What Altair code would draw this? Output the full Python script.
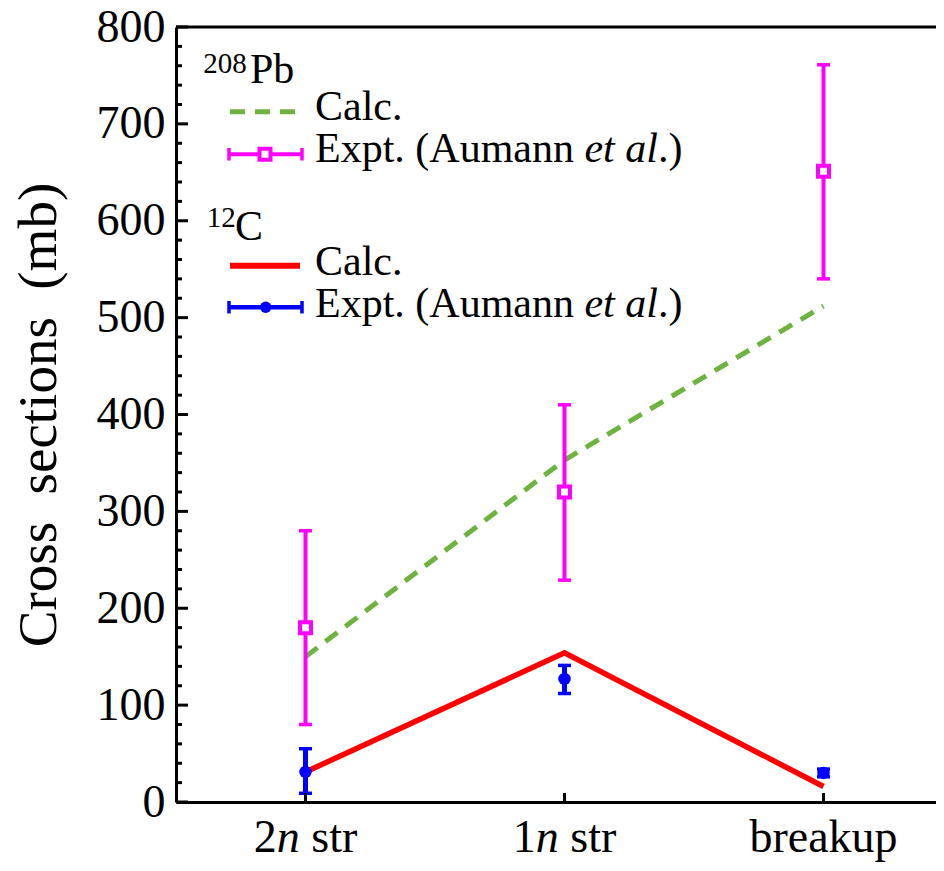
import altair as alt
import pandas as pd

# ---------------- data ----------------
cats = ["2n str", "1n str", "breakup"]
cat_pos = [1, 2, 3]

pb_calc = [150, 353, 512]
pb_expt = [180, 320, 651]
pb_expt_lo = [80, 229, 540]
pb_expt_hi = [280, 410, 761]

c_calc = [31, 154, 16]
c_expt = [31, 127, 30]
c_expt_lo = [9, 112, 26]
c_expt_hi = [55, 141, 34]

y_tick_values = [0, 100, 200, 300, 400, 500, 600, 700, 800]
y_minor_values = [v for v in range(0, 801, 20) if v % 100 != 0]

# x tick label pieces (italic n)
tick_lead = ["2", "1"]
tick_ital = ["n", "n"]
tick_tail = ["str", "str"]
tick_plain = ["breakup"]

GREEN = "#6db33f"
MAGENTA = "#ff00ff"
RED = "#ff0000"
BLUE = "#0000ff"
FONT = "Liberation Serif"

W, H = 760, 775

df = pd.DataFrame({
    "x": cat_pos, "cat": cats,
    "pb_calc": pb_calc, "pb_expt": pb_expt, "pb_lo": pb_expt_lo, "pb_hi": pb_expt_hi,
    "c_calc": c_calc, "c_expt": c_expt, "c_lo": c_expt_lo, "c_hi": c_expt_hi,
})

xs = alt.Scale(domain=[0.5, 0.5 + W / 259.0], nice=False, zero=False)
ys = alt.Scale(domain=[0, 800], nice=False, zero=False)

xaxis = alt.Axis(labels=False, ticks=False, tickSize=0, grid=False, title=None,
                 domainWidth=3, domainColor="black")
yaxis = alt.Axis(values=y_tick_values, ticks=False, tickSize=0, grid=False,
                 domainWidth=3, domainColor="black",
                 labelFont=FONT, labelFontSize=46, labelColor="black", labelPadding=11,
                 labelOverlap=False, labelFlush=False,
                 title="Cross\u00a0 sections\u00a0 (mb)", titleFont=FONT, titleFontSize=55,
                 titleFontWeight="normal", titleColor="black", titleX=-121, titleY=H / 2,
                 titleAngle=270, titleBaseline="alphabetic", titleAlign="center")


def X():
    return alt.X("x:Q", scale=xs, axis=xaxis)


def Y(f):
    return alt.Y(f + ":Q", scale=ys, axis=yaxis)


base = alt.Chart(df)

layers = []
# calculated lines
layers.append(base.mark_line(color=GREEN, strokeWidth=5, strokeDash=[15, 10])
              .encode(x=X(), y=Y("pb_calc")))
layers.append(base.mark_line(color=RED, strokeWidth=5.5).encode(x=X(), y=Y("c_calc")))

# error bars Pb
layers.append(base.mark_rule(color=MAGENTA, strokeWidth=4)
              .encode(x=X(), y=Y("pb_lo"), y2="pb_hi:Q"))
for f in ["pb_lo", "pb_hi"]:
    layers.append(base.mark_tick(color=MAGENTA, orient="horizontal", size=13,
                                 thickness=3.5, opacity=1).encode(x=X(), y=Y(f)))
layers.append(base.mark_square(size=121, fill="white", stroke=MAGENTA, strokeWidth=4,
                               opacity=1).encode(x=X(), y=Y("pb_expt")))

# error bars C
layers.append(base.mark_rule(color=BLUE, strokeWidth=5)
              .encode(x=X(), y=Y("c_lo"), y2="c_hi:Q"))
for f in ["c_lo", "c_hi"]:
    layers.append(base.mark_tick(color=BLUE, orient="horizontal", size=13,
                                 thickness=3.5, opacity=1).encode(x=X(), y=Y(f)))
layers.append(base.mark_circle(size=155, color=BLUE, opacity=1)
              .encode(x=X(), y=Y("c_expt")))

# axis ticks (inward)
layers.append(alt.Chart(pd.DataFrame({"v": y_tick_values})).mark_rule(color="black", strokeWidth=3)
              .encode(y=alt.Y("v:Q", scale=ys, axis=yaxis), x=alt.value(0), x2=alt.value(12)))
layers.append(alt.Chart(pd.DataFrame({"v": y_minor_values})).mark_rule(color="black", strokeWidth=3)
              .encode(y=alt.Y("v:Q", scale=ys, axis=yaxis), x=alt.value(0), x2=alt.value(6)))
layers.append(base.mark_rule(color="black", strokeWidth=3)
              .encode(x=X(), y=alt.value(H), y2=alt.value(H - 9)))

# top frame line
one = alt.Chart(pd.DataFrame({"a": [0]}))
layers.append(one.mark_rule(color="black", strokeWidth=3)
              .encode(x=alt.value(0), x2=alt.value(W), y=alt.value(0)))

# x tick labels
LF = 46
LB = 825
lab_df = pd.DataFrame({"x": cat_pos[:2], "lead": tick_lead, "ital": tick_ital, "tail": tick_tail})
lab = alt.Chart(lab_df)
layers.append(lab.mark_text(font=FONT, fontSize=LF, align="left", baseline="alphabetic",
                            color="black", dx=-2.25 * LF / 2)
              .encode(x=X(), y=alt.value(LB), text="lead:N"))
layers.append(lab.mark_text(font=FONT, fontSize=LF, fontStyle="italic", align="left",
                            baseline="alphabetic", color="black", dx=-2.25 * LF / 2 + 0.5 * LF)
              .encode(x=X(), y=alt.value(LB), text="ital:N"))
layers.append(lab.mark_text(font=FONT, fontSize=LF, align="left", baseline="alphabetic",
                            color="black", dx=-2.25 * LF / 2 + 1.25 * LF)
              .encode(x=X(), y=alt.value(LB), text="tail:N"))
lab2 = alt.Chart(pd.DataFrame({"x": cat_pos[2:], "t": tick_plain}))
layers.append(lab2.mark_text(font=FONT, fontSize=LF, align="center", baseline="alphabetic",
                             color="black")
              .encode(x=X(), y=alt.value(LB), text="t:N"))


# ---------------- legend (drawn in pixel space) ----------------
def txt(t, x, y, size=42, italic=False):
    kw = dict(font=FONT, fontSize=size, align="left", baseline="alphabetic", color="black", text=t)
    if italic:
        kw["fontStyle"] = "italic"
    return one.mark_text(**kw).encode(x=alt.value(x), y=alt.value(y))


def hr(x1, x2, y, color, w, dash=None):
    kw = dict(color=color, strokeWidth=w)
    if dash:
        kw["strokeDash"] = dash
    return one.mark_rule(**kw).encode(x=alt.value(x1), x2=alt.value(x2), y=alt.value(y))


def vr(x, y1, y2, color, w):
    return one.mark_rule(color=color, strokeWidth=w).encode(
        x=alt.value(x), y=alt.value(y1), y2=alt.value(y2))


F = 42


def expt_text(x0, y):
    out = [txt("Expt. (Aumann", x0, y, F)]
    xe = x0 + 6.416 * F
    out.append(txt("et", xe, y, F, italic=True))
    xa = xe + 0.722 * F + 0.25 * F
    out.append(txt("al", xa, y, F, italic=True))
    out.append(txt(".)", xa + 0.778 * F, y, F))
    return out


TX = 139
leg = []
leg.append(txt("208", 27.3, 46.3, 29))
leg.append(txt("Pb", 74, 56.3, F))
leg.append(hr(54, 119, 84.7, GREEN, 5, [15, 10]))
leg.append(txt("Calc.", TX, 93, F))
leg.append(hr(53, 126, 127.3, MAGENTA, 4))
leg.append(vr(53, 121, 133.5, MAGENTA, 3.5))
leg.append(vr(126, 121, 133.5, MAGENTA, 3.5))
leg.append(one.mark_square(size=121, fill="white", stroke=MAGENTA, strokeWidth=4, opacity=1)
           .encode(x=alt.value(89), y=alt.value(127.3)))
leg += expt_text(TX, 134.7)

leg.append(txt("12", 30.7, 199.7, 29))
leg.append(txt("C", 59, 213, F))
leg.append(hr(54, 124, 238.7, RED, 6))
leg.append(txt("Calc.", TX, 248, F))
leg.append(hr(53, 126, 280.3, BLUE, 4.5))
leg.append(vr(53, 274, 286.5, BLUE, 3.5))
leg.append(vr(126, 274, 286.5, BLUE, 3.5))
leg.append(one.mark_circle(size=130, color=BLUE, opacity=1)
           .encode(x=alt.value(89.7), y=alt.value(280.3)))
leg += expt_text(TX, 289.7)

chart = alt.layer(*layers, *leg).properties(
    width=W, height=H,
    padding={"left": 168, "top": 19, "right": 0, "bottom": 61},
    autosize=alt.AutoSizeParams(type="none"),
    background="white",
).configure_view(strokeWidth=0)

chart.save("out.html", embed_options={"renderer": "svg", "actions": False})
